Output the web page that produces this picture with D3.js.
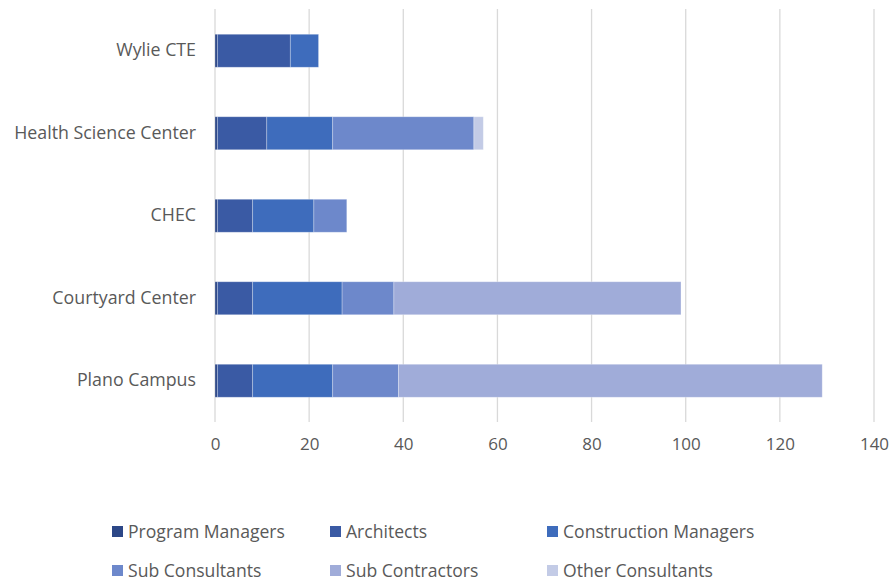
<!DOCTYPE html>
<html>
<head>
<meta charset="utf-8">
<script src="https://cdn.jsdelivr.net/npm/d3@7"></script>
<style>
  html, body { margin: 0; padding: 0; background: #fff; }
  svg { display: block; font-family: "Open Sans", Lato, sans-serif; }
</style>
</head>
<body>
<svg id="chart" width="890" height="582"></svg>
<script>
const categories = ["Wylie CTE", "Health Science Center", "CHEC", "Courtyard Center", "Plano Campus"];
const seriesNames = ["Program Managers", "Architects", "Construction Managers", "Sub Consultants", "Sub Contractors", "Other Consultants"];
const programManagers     = [0.5, 0.5, 0.5, 0.5, 0.5];
const architects          = [15.5, 10.5, 7.5, 7.5, 7.5];
const constructionManagers = [6, 14, 13, 19, 17];
const subConsultants      = [0, 30, 7, 11, 14];
const subContractors      = [0, 0, 0, 61, 90];
const otherConsultants    = [0, 2, 0, 0, 0];
const xTicks = [0, 20, 40, 60, 80, 100, 120, 140];
const colors = ["#2c4787", "#3a5aa4", "#3e6cbc", "#6d88cb", "#a0acd9", "#c3cbe6"];

const seriesValues = [programManagers, architects, constructionManagers, subConsultants, subContractors, otherConsultants];
const rows = categories.map((c, i) => {
  const r = { cat: c };
  seriesNames.forEach((s, j) => r[s] = seriesValues[j][i]);
  return r;
});

const svg = d3.select("#chart");
const x = d3.scaleLinear().domain([0, 140]).range([215, 874]);
const y = d3.scaleBand().domain(categories).range([9.5, 422]).paddingInner(0.6).paddingOuter(0.3);

const FONT = "'Open Sans', Lato, sans-serif";

// gridlines
svg.append("g").selectAll("line").data(xTicks).join("line")
  .attr("x1", d => x(d)).attr("x2", d => x(d))
  .attr("y1", 9).attr("y2", 422)
  .attr("stroke", "#d9d9d9").attr("stroke-width", 1.3);

// x tick labels via axis
const xAxis = svg.append("g").attr("transform", "translate(0,432)")
  .call(d3.axisBottom(x).tickValues(xTicks).tickSize(0).tickPadding(6));
xAxis.select(".domain").remove();
xAxis.selectAll("text").attr("fill", "#595959").style("font-size", "17px").style("font-family", FONT);

// y labels via axis
const yAxis = svg.append("g").attr("transform", "translate(196,0)")
  .call(d3.axisLeft(y).tickSize(0).tickPadding(0));
yAxis.select(".domain").remove();
yAxis.selectAll("text").attr("fill", "#595959").style("font-size", "17.8px").style("font-family", FONT);

// stacked bars
const stacked = d3.stack().keys(seriesNames)(rows);
svg.append("g").selectAll("g").data(stacked).join("g")
  .attr("fill", (d, i) => colors[i])
  .selectAll("rect").data(d => d.filter(p => p[1] - p[0] > 0)).join("rect")
  .attr("x", d => x(d[0]))
  .attr("width", d => x(d[1]) - x(d[0]))
  .attr("y", d => y(d.data.cat))
  .attr("height", y.bandwidth())
  .attr("stroke", "rgba(255,255,255,0.35)")
  .attr("stroke-width", 0.8);

// legend
const legendPos = [[112, 532], [330, 532], [547, 532], [112, 571], [330, 571], [547, 571]];
const lg = svg.append("g").selectAll("g").data(seriesNames).join("g")
  .attr("transform", (d, i) => `translate(${legendPos[i][0]},${legendPos[i][1]})`);
lg.append("rect").attr("x", 0).attr("y", -6).attr("width", 11).attr("height", 11)
  .attr("fill", (d, i) => colors[i]);
lg.append("text").attr("x", 16).attr("y", 0).attr("dy", "0.35em")
  .attr("fill", "#595959").style("font-size", "17.6px").style("font-family", FONT).text(d => d);
</script>
</body>
</html>
